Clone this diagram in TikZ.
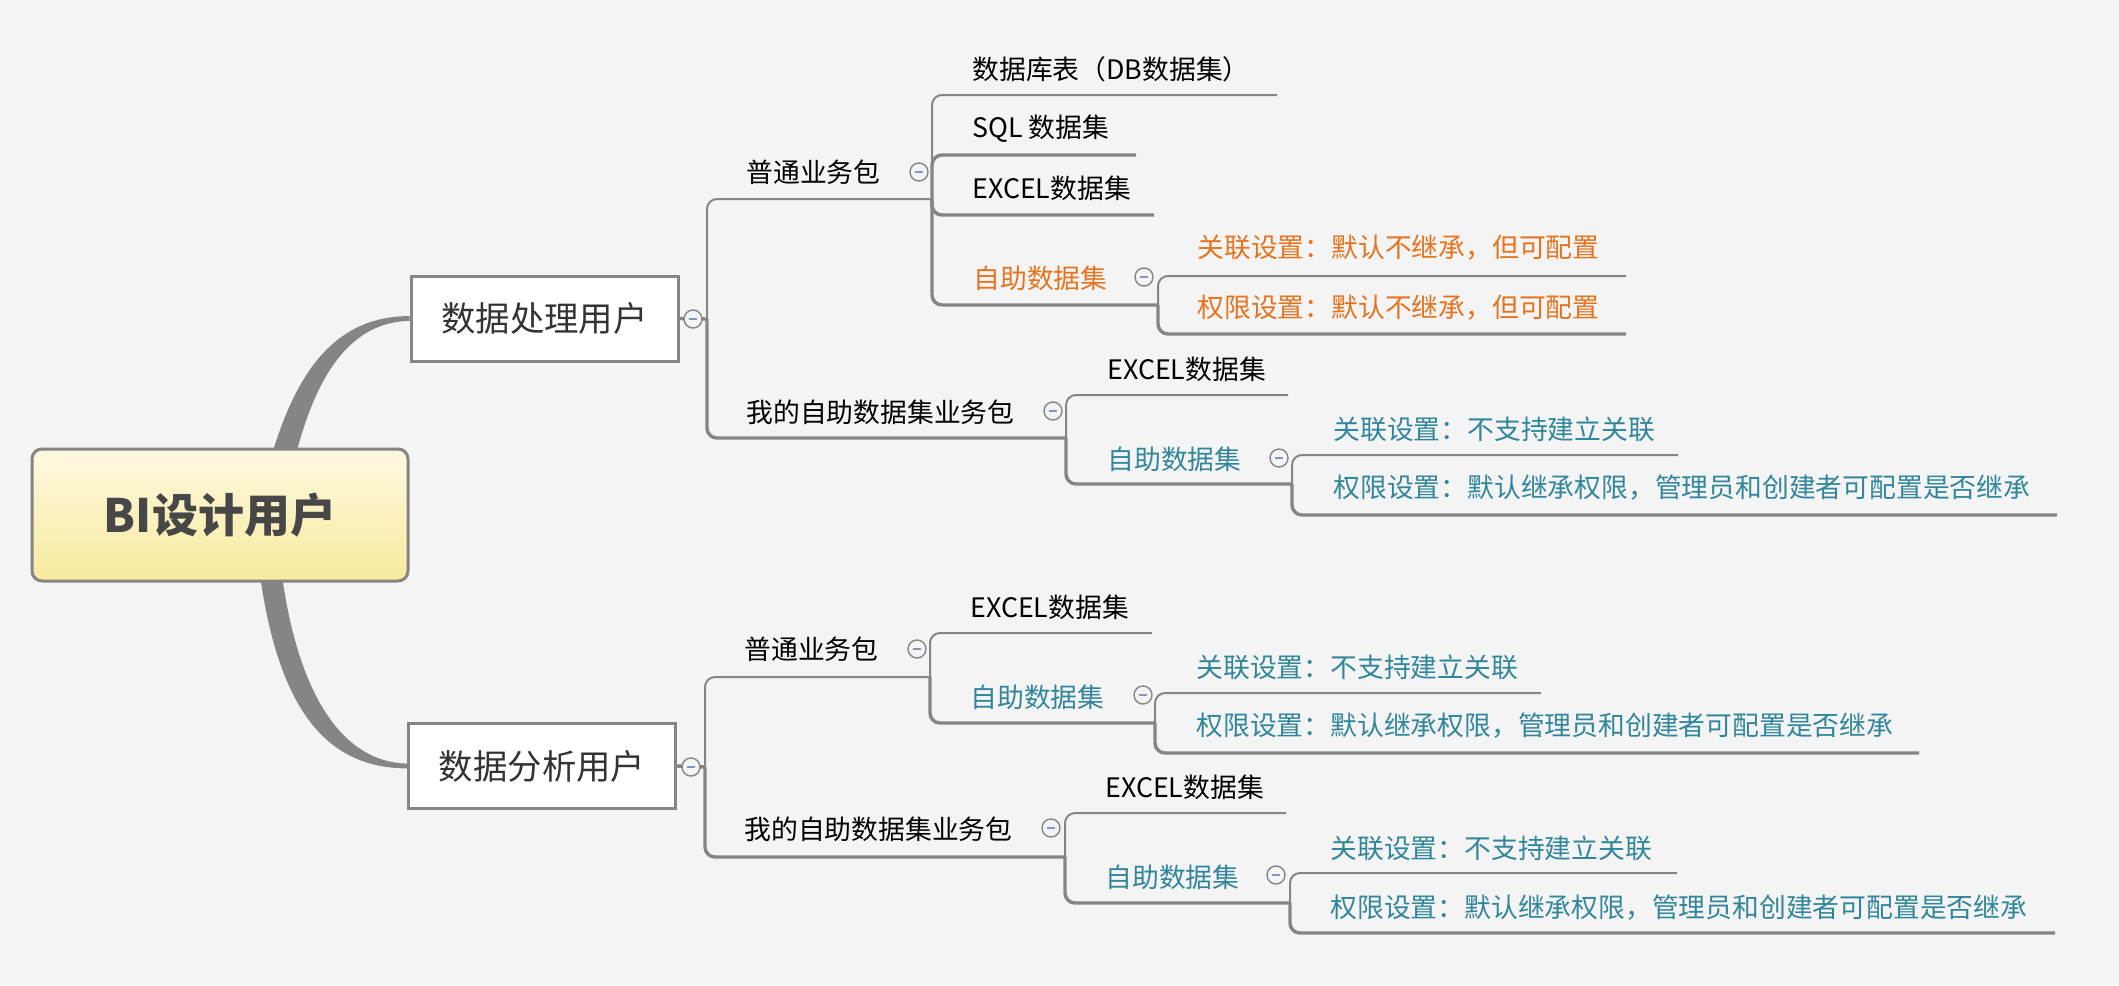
\documentclass[tikz,border=0pt]{standalone}
\usepackage{fontspec}
\setmainfont{Noto Sans CJK SC}

\definecolor{bggray}{HTML}{F4F4F4}
\definecolor{linegray}{HTML}{858585}
\definecolor{setorange}{HTML}{E6731E}
\definecolor{setteal}{HTML}{31869B}
\definecolor{foldminus}{HTML}{8A90C8}
\definecolor{roottop}{HTML}{FDF9E0}
\definecolor{rootbottom}{HTML}{F8EA9E}

\newcommand{\foldsign}{\textcolor{foldminus}{\rule{4pt}{0.8pt}}}

\tikzset{
    topic/.style={anchor=west, inner sep=0pt, font=\fontsize{13.4}{16}\selectfont},
    branch/.style={draw=linegray, line width=1.7pt, rounded corners=5pt},
    firstbranch/.style={branch, line width=1pt},
    fold/.style={circle, draw=linegray, fill=bggray, line width=0.7pt, minimum size=9pt, inner sep=0pt},
    userbox/.style={draw=linegray, fill=white, line width=1.5pt, minimum width=133.5pt, minimum height=42.5pt, text=black!80, font=\fontsize{17.2}{20}\selectfont},
    rootbox/.style={draw=linegray, line width=1.5pt, rounded corners=5pt, top color=roottop, bottom color=rootbottom, minimum width=188pt, minimum height=66pt, text=black!72, font=\fontsize{23}{26}\selectfont\bfseries}
}

\begin{document}
\begin{tikzpicture}[x=0.5pt, y=-0.5pt]
            \useasboundingbox (0,0) rectangle (2119,985);

            \fill[bggray] (0,0) rectangle (2119,985);

            %users
            \node[userbox] (proc) at (544.5,318.5) {数据处理用户};

            \node[userbox] (anal) at (542,766) {数据分析用户};

            \node[rootbox, draw=none, fill=none] (root) at (220,515) {};

            \fill[linegray] ([shift={(45,-35)}]root.center) .. controls (290,380) and (330,316) .. ([yshift=1.2pt]proc.west)
                -- ([yshift=-1.2pt]proc.west) .. controls (345,322) and (310,385) .. ([shift={(70,-35)}]root.center) -- cycle;

            \fill[linegray] ([shift={(38,45)}]root.center) .. controls (275,700) and (320,768) .. ([yshift=-1.2pt]anal.west)
                -- ([yshift=1.2pt]anal.west) .. controls (340,762) and (295,690) .. ([shift={(60,45)}]root.center) -- cycle;

            \node[rootbox] at (root) {BI设计用户};

            %data processing user
            \coordinate (jproc) at (707,319);

            \draw[branch] (proc.east) -- (jproc);

            \node[topic] (procpkg) at (746,172) {普通业务包};
            \coordinate (procpkgend) at (932,199);
            \draw[firstbranch] (jproc) |- (procpkgend);

            \node[topic] (procdb) at (972,69) {数据库表（DB数据集）};
            \coordinate (procdbend) at (1277,95);
            \draw[firstbranch] (procpkgend) |- (procdbend);

            \node[topic] (procsql) at (972,129) {SQL 数据集};
            \coordinate (procsqlend) at (1136,155);
            \draw[branch] (procpkgend) |- (procsqlend);

            \node[topic] (procexcel) at (972,188) {EXCEL数据集};
            \coordinate (procexcelend) at (1154,215);
            \draw[branch] (procpkgend) |- (procexcelend);

            \node[topic, text=setorange] (procself) at (973,278) {自助数据集};
            \coordinate (procselfend) at (1158,305);
            \draw[branch] (procpkgend) |- (procselfend);

            \node[topic, text=setorange] (procselfrel) at (1197,248) {关联设置：默认不继承，但可配置};
            \coordinate (procselfrelend) at (1626,276);
            \draw[firstbranch] (procselfend) |- (procselfrelend);

            \node[topic, text=setorange] (procselfperm) at (1197,308) {权限设置：默认不继承，但可配置};
            \coordinate (procselfpermend) at (1626,334);
            \draw[branch] (procselfend) |- (procselfpermend);

            \node[topic] (procmine) at (746,412) {我的自助数据集业务包};
            \coordinate (procmineend) at (1066,438);
            \draw[branch] (jproc) |- (procmineend);

            \node[topic] (procmineexcel) at (1107,369) {EXCEL数据集};
            \coordinate (procmineexcelend) at (1288,395);
            \draw[firstbranch] (procmineend) |- (procmineexcelend);

            \node[topic, text=setteal] (procmineself) at (1107,459) {自助数据集};
            \coordinate (procmineselfend) at (1292,484);
            \draw[branch] (procmineend) |- (procmineselfend);

            \node[topic, text=setteal] (procminerel) at (1333,429) {关联设置：不支持建立关联};
            \coordinate (procminerelend) at (1678,455);
            \draw[firstbranch] (procmineselfend) |- (procminerelend);

            \node[topic, text=setteal] (procmineperm) at (1333,488) {权限设置：默认继承权限，管理员和创建者可配置是否继承};
            \coordinate (procminepermend) at (2057,515);
            \draw[branch] (procmineselfend) |- (procminepermend);

            %data analysis user
            \coordinate (janal) at (705,767);

            \draw[branch] (anal.east) -- (janal);

            \node[topic] (analpkg) at (744,649) {普通业务包};
            \coordinate (analpkgend) at (930,677);
            \draw[firstbranch] (janal) |- (analpkgend);

            \node[topic] (analexcel) at (970,607) {EXCEL数据集};
            \coordinate (analexcelend) at (1152,633);
            \draw[firstbranch] (analpkgend) |- (analexcelend);

            \node[topic, text=setteal] (analself) at (970,697) {自助数据集};
            \coordinate (analselfend) at (1155,723);
            \draw[branch] (analpkgend) |- (analselfend);

            \node[topic, text=setteal] (analrel) at (1196,667) {关联设置：不支持建立关联};
            \coordinate (analrelend) at (1541,693);
            \draw[firstbranch] (analselfend) |- (analrelend);

            \node[topic, text=setteal] (analperm) at (1196,726) {权限设置：默认继承权限，管理员和创建者可配置是否继承};
            \coordinate (analpermend) at (1919,753);
            \draw[branch] (analselfend) |- (analpermend);

            \node[topic] (analmine) at (744,829) {我的自助数据集业务包};
            \coordinate (analmineend) at (1065,857);
            \draw[branch] (janal) |- (analmineend);

            \node[topic] (analmineexcel) at (1105,787) {EXCEL数据集};
            \coordinate (analmineexcelend) at (1286,813);
            \draw[firstbranch] (analmineend) |- (analmineexcelend);

            \node[topic, text=setteal] (analmineself) at (1105,877) {自助数据集};
            \coordinate (analmineselfend) at (1290,903);
            \draw[branch] (analmineend) |- (analmineselfend);

            \node[topic, text=setteal] (analminerel) at (1330,848) {关联设置：不支持建立关联};
            \coordinate (analminerelend) at (1677,873);
            \draw[firstbranch] (analmineselfend) |- (analminerelend);

            \node[topic, text=setteal] (analmineperm) at (1330,908) {权限设置：默认继承权限，管理员和创建者可配置是否继承};
            \coordinate (analminepermend) at (2055,933);
            \draw[branch] (analmineselfend) |- (analminepermend);

            %fold buttons
            \node[fold] (fproc) at (693,319) {\foldsign};

            \node[fold] (fprocpkg) at (919,172) {\foldsign};

            \node[fold] (fprocself) at (1144,277) {\foldsign};

            \node[fold] (fprocmine) at (1053,411) {\foldsign};

            \node[fold] (fprocmineself) at (1279,458) {\foldsign};

            \node[fold] (fanal) at (691,767) {\foldsign};

            \node[fold] (fanalpkg) at (917,649) {\foldsign};

            \node[fold] (fanalself) at (1143,695) {\foldsign};

            \node[fold] (fanalmine) at (1051,828) {\foldsign};

            \node[fold] (fanalmineself) at (1276,875) {\foldsign};
\end{tikzpicture}
\end{document}
